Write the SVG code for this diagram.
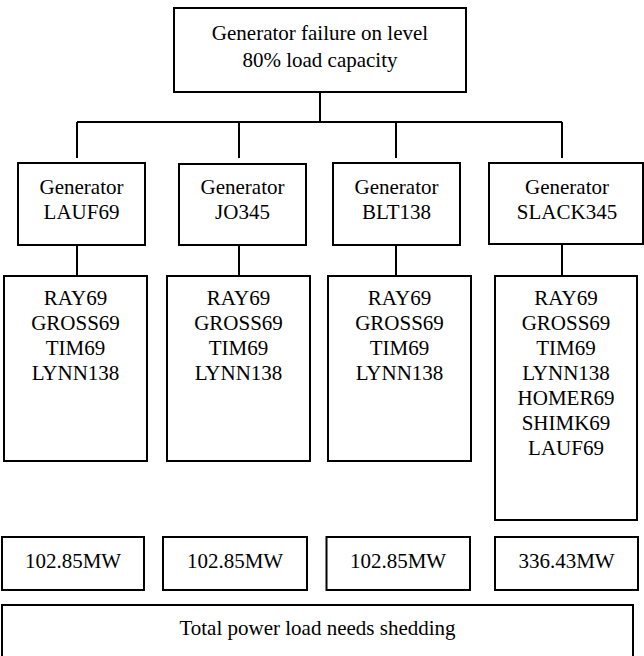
<svg xmlns="http://www.w3.org/2000/svg" width="644" height="656" viewBox="0 0 644 656">
<style>
.box{fill:#fff;stroke:#000;stroke-width:2}
.ln{fill:none;stroke:#000;stroke-width:2}
.t{font-family:'Times New Roman','Liberation Serif',Tinos,Times,'Noto Serif','DejaVu Serif',FreeSerif,serif;font-size:21px;fill:#000;text-anchor:middle}
</style>
<rect width="644" height="656" fill="#fff"/>
<g id="connectors">
<path class="ln" d="M320,92 V122 M77,122 H562 M77,122 V158 M239,122 V158 M396,122 V158 M562,122 V158"/>
<path class="ln" d="M77,245 V276 M239,245 V276 M396,245 V276 M562,245 V276"/>
</g>
<g class="t">
<g id="root">
<rect class="box" x="174" y="8" width="292" height="84"/>
<text x="320" y="40">Generator failure on level</text>
<text x="320" y="67">80% load capacity</text>
</g>
<g id="gen1">
<rect class="box" x="18" y="163" width="127" height="82"/>
<text x="81.5" y="194">Generator</text>
<text x="81.5" y="219">LAUF69</text>
</g>
<g id="gen2">
<rect class="box" x="179" y="164" width="127" height="81"/>
<text x="242.5" y="194">Generator</text>
<text x="242.5" y="219">JO345</text>
</g>
<g id="gen3">
<rect class="box" x="333" y="163" width="127" height="82"/>
<text x="396.5" y="194">Generator</text>
<text x="396.5" y="219">BLT138</text>
</g>
<g id="gen4">
<rect class="box" x="489" y="163" width="154" height="81"/>
<text x="567" y="194">Generator</text>
<text x="567" y="219">SLACK345</text>
</g>
<g id="list1">
<rect class="box" x="4" y="276" width="143" height="185"/>
<text x="75.5" y="305">RAY69</text>
<text x="75.5" y="330">GROSS69</text>
<text x="75.5" y="355">TIM69</text>
<text x="75.5" y="380">LYNN138</text>
</g>
<g id="list2">
<rect class="box" x="167" y="276" width="143" height="185"/>
<text x="238.5" y="305">RAY69</text>
<text x="238.5" y="330">GROSS69</text>
<text x="238.5" y="355">TIM69</text>
<text x="238.5" y="380">LYNN138</text>
</g>
<g id="list3">
<rect class="box" x="328" y="276" width="143" height="185"/>
<text x="399.5" y="305">RAY69</text>
<text x="399.5" y="330">GROSS69</text>
<text x="399.5" y="355">TIM69</text>
<text x="399.5" y="380">LYNN138</text>
</g>
<g id="list4">
<rect class="box" x="495" y="276" width="142" height="244"/>
<text x="566" y="305">RAY69</text>
<text x="566" y="330">GROSS69</text>
<text x="566" y="355">TIM69</text>
<text x="566" y="380">LYNN138</text>
<text x="566" y="405">HOMER69</text>
<text x="566" y="430">SHIMK69</text>
<text x="566" y="455">LAUF69</text>
</g>
<g id="mw1">
<rect class="box" x="2" y="537" width="142" height="53"/>
<text x="73" y="568">102.85MW</text>
</g>
<g id="mw2">
<rect class="box" x="163" y="537" width="144" height="53"/>
<text x="235" y="568">102.85MW</text>
</g>
<g id="mw3">
<rect class="box" x="326.5" y="537" width="143.5" height="53"/>
<text x="398" y="568">102.85MW</text>
</g>
<g id="mw4">
<rect class="box" x="495" y="537" width="143" height="53"/>
<text x="566.5" y="568">336.43MW</text>
</g>
<g id="total">
<rect class="box" x="2" y="605" width="631" height="60"/>
<text x="317.5" y="635">Total power load needs shedding</text>
</g>
</g>
</svg>
